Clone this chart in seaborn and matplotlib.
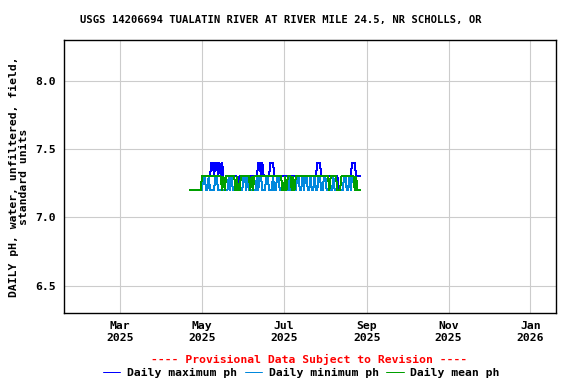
import pandas as pd
import matplotlib
matplotlib.use('Agg')
import matplotlib.pyplot as plt
import matplotlib.dates as mdates
import seaborn as sns

# daily values, 2025-04-22 .. 2025-08-27
start_date = '2025-04-22'
daily_max = [
    7.2, 7.2, 7.2, 7.2, 7.2, 7.2, 7.2, 7.2, 7.2, 7.3, 7.3, 7.3, 7.3, 7.3, 7.3, 7.3,
    7.4, 7.4, 7.3, 7.4, 7.4, 7.3, 7.4, 7.3, 7.4, 7.3, 7.2, 7.3, 7.3, 7.3, 7.3, 7.3,
    7.3, 7.3, 7.3, 7.3, 7.2, 7.3, 7.3, 7.3, 7.3, 7.3, 7.3, 7.3, 7.3, 7.3, 7.3, 7.3,
    7.3, 7.3, 7.3, 7.4, 7.4, 7.3, 7.4, 7.3, 7.3, 7.3, 7.3, 7.3, 7.4, 7.4, 7.4, 7.3,
    7.3, 7.3, 7.3, 7.3, 7.3, 7.3, 7.3, 7.3, 7.3, 7.3, 7.3, 7.3, 7.3, 7.3, 7.3, 7.3,
    7.3, 7.3, 7.3, 7.3, 7.3, 7.3, 7.3, 7.3, 7.3, 7.3, 7.3, 7.3, 7.3, 7.3, 7.3, 7.4,
    7.4, 7.4, 7.3, 7.3, 7.3, 7.3, 7.3, 7.3, 7.3, 7.3, 7.3, 7.3, 7.3, 7.3, 7.3, 7.2,
    7.2, 7.3, 7.3, 7.3, 7.3, 7.3, 7.3, 7.3, 7.3, 7.4, 7.4, 7.4, 7.3, 7.3, 7.3, 7.3,
]
daily_min = [
    7.2, 7.2, 7.2, 7.2, 7.2, 7.2, 7.2, 7.2, 7.2, 7.2, 7.3, 7.3, 7.2, 7.2, 7.3, 7.2,
    7.2, 7.2, 7.2, 7.3, 7.3, 7.2, 7.2, 7.2, 7.2, 7.2, 7.2, 7.2, 7.2, 7.3, 7.2, 7.3,
    7.2, 7.2, 7.2, 7.2, 7.2, 7.2, 7.2, 7.2, 7.3, 7.3, 7.2, 7.3, 7.2, 7.2, 7.2, 7.2,
    7.2, 7.2, 7.3, 7.2, 7.3, 7.3, 7.2, 7.2, 7.2, 7.3, 7.3, 7.2, 7.2, 7.2, 7.3, 7.2,
    7.2, 7.3, 7.3, 7.2, 7.2, 7.2, 7.2, 7.2, 7.2, 7.2, 7.3, 7.2, 7.2, 7.2, 7.2, 7.2,
    7.3, 7.3, 7.2, 7.2, 7.3, 7.2, 7.3, 7.3, 7.2, 7.2, 7.3, 7.2, 7.2, 7.3, 7.2, 7.2,
    7.3, 7.3, 7.2, 7.2, 7.3, 7.3, 7.2, 7.2, 7.2, 7.2, 7.2, 7.3, 7.2, 7.2, 7.2, 7.2,
    7.2, 7.2, 7.2, 7.3, 7.3, 7.2, 7.2, 7.3, 7.2, 7.3, 7.3, 7.2, 7.3, 7.2, 7.2, 7.2,
]
daily_mean = [
    7.2, 7.2, 7.2, 7.2, 7.2, 7.2, 7.2, 7.2, 7.2, 7.3, 7.3, 7.3, 7.3, 7.3, 7.3, 7.3,
    7.3, 7.3, 7.3, 7.3, 7.3, 7.3, 7.3, 7.3, 7.2, 7.3, 7.2, 7.3, 7.3, 7.3, 7.3, 7.3,
    7.3, 7.3, 7.2, 7.3, 7.2, 7.2, 7.3, 7.3, 7.3, 7.3, 7.3, 7.3, 7.3, 7.2, 7.3, 7.2,
    7.3, 7.3, 7.3, 7.3, 7.3, 7.3, 7.3, 7.3, 7.3, 7.3, 7.3, 7.3, 7.3, 7.3, 7.3, 7.3,
    7.3, 7.3, 7.3, 7.3, 7.3, 7.2, 7.2, 7.3, 7.2, 7.3, 7.3, 7.3, 7.2, 7.3, 7.2, 7.3,
    7.3, 7.3, 7.3, 7.3, 7.3, 7.3, 7.3, 7.3, 7.3, 7.3, 7.3, 7.3, 7.3, 7.3, 7.3, 7.3,
    7.3, 7.3, 7.3, 7.3, 7.3, 7.3, 7.3, 7.3, 7.2, 7.3, 7.3, 7.3, 7.3, 7.3, 7.2, 7.2,
    7.2, 7.3, 7.3, 7.3, 7.3, 7.3, 7.3, 7.3, 7.3, 7.3, 7.3, 7.2, 7.3, 7.2, 7.2, 7.2,
]

title = 'USGS 14206694 TUALATIN RIVER AT RIVER MILE 24.5, NR SCHOLLS, OR'
ylabel = 'DAILY pH, water, unfiltered, field,\nstandard units'
series_names = ['Daily maximum ph', 'Daily minimum ph', 'Daily mean ph']
series_colors = ['#0000ff', '#0088dd', '#00a000']

dates = pd.date_range(start_date, periods=len(daily_mean), freq='D')
df = pd.DataFrame({'date': dates, series_names[0]: daily_max,
                   series_names[1]: daily_min, series_names[2]: daily_mean})

sns.set_style('white')
plt.rcParams['font.family'] = ['DejaVu Sans Mono']
plt.rcParams['font.weight'] = 'bold'
plt.rcParams['text.color'] = 'black'
plt.rcParams['xtick.color'] = 'black'
plt.rcParams['ytick.color'] = 'black'
plt.rcParams['axes.labelcolor'] = 'black'
fs = 8.2

fig = plt.figure(figsize=(5.76, 3.84), dpi=100)
ax = fig.add_axes([0.111, 0.185, 0.854, 0.711])

for name, col in zip(series_names, series_colors):
    sns.lineplot(data=df, x='date', y=name, color=col, linewidth=0.72, ax=ax,
                 label=name, legend=False, antialiased=False)

ax.set_xlim(pd.Timestamp('2025-01-18'), pd.Timestamp('2026-01-20'))
ax.set_ylim(6.3, 8.3)
ax.set_yticks([6.5, 7.0, 7.5, 8.0])
ax.set_yticklabels(['6.5', '7.0', '7.5', '8.0'])
ax.xaxis.set_major_locator(mdates.MonthLocator(bymonth=[1, 3, 5, 7, 9, 11]))
ax.xaxis.set_major_formatter(mdates.DateFormatter('%b\n%Y'))
ax.grid(True, color='#cccccc', linewidth=0.8)
ax.tick_params(length=0, labelsize=fs, pad=6)
for lab in ax.get_xticklabels() + ax.get_yticklabels():
    lab.set_fontweight('bold')
for sp in ax.spines.values():
    sp.set_color('black')
    sp.set_linewidth(1)

ax.set_xlabel('')
ax.set_ylabel(ylabel, fontsize=fs, fontweight='bold', labelpad=4, linespacing=1.1)
fig.text(0.487, 0.947, title, fontsize=7.6, fontweight='bold', ha='center', va='center')

fig.text(0.536, 0.065, '---- Provisional Data Subject to Revision ----',
         color='red', fontsize=fs, fontweight='bold', ha='center', va='center')
handles, labels = ax.get_legend_handles_labels()
fig.legend(handles, labels, loc='center', bbox_to_anchor=(0.523, 0.029), ncol=3,
           frameon=False, handlelength=1.5, handletextpad=0.6,
           columnspacing=0.7, borderpad=0, prop={'weight': 'bold', 'size': fs})

fig.savefig('out.png', dpi=100)
